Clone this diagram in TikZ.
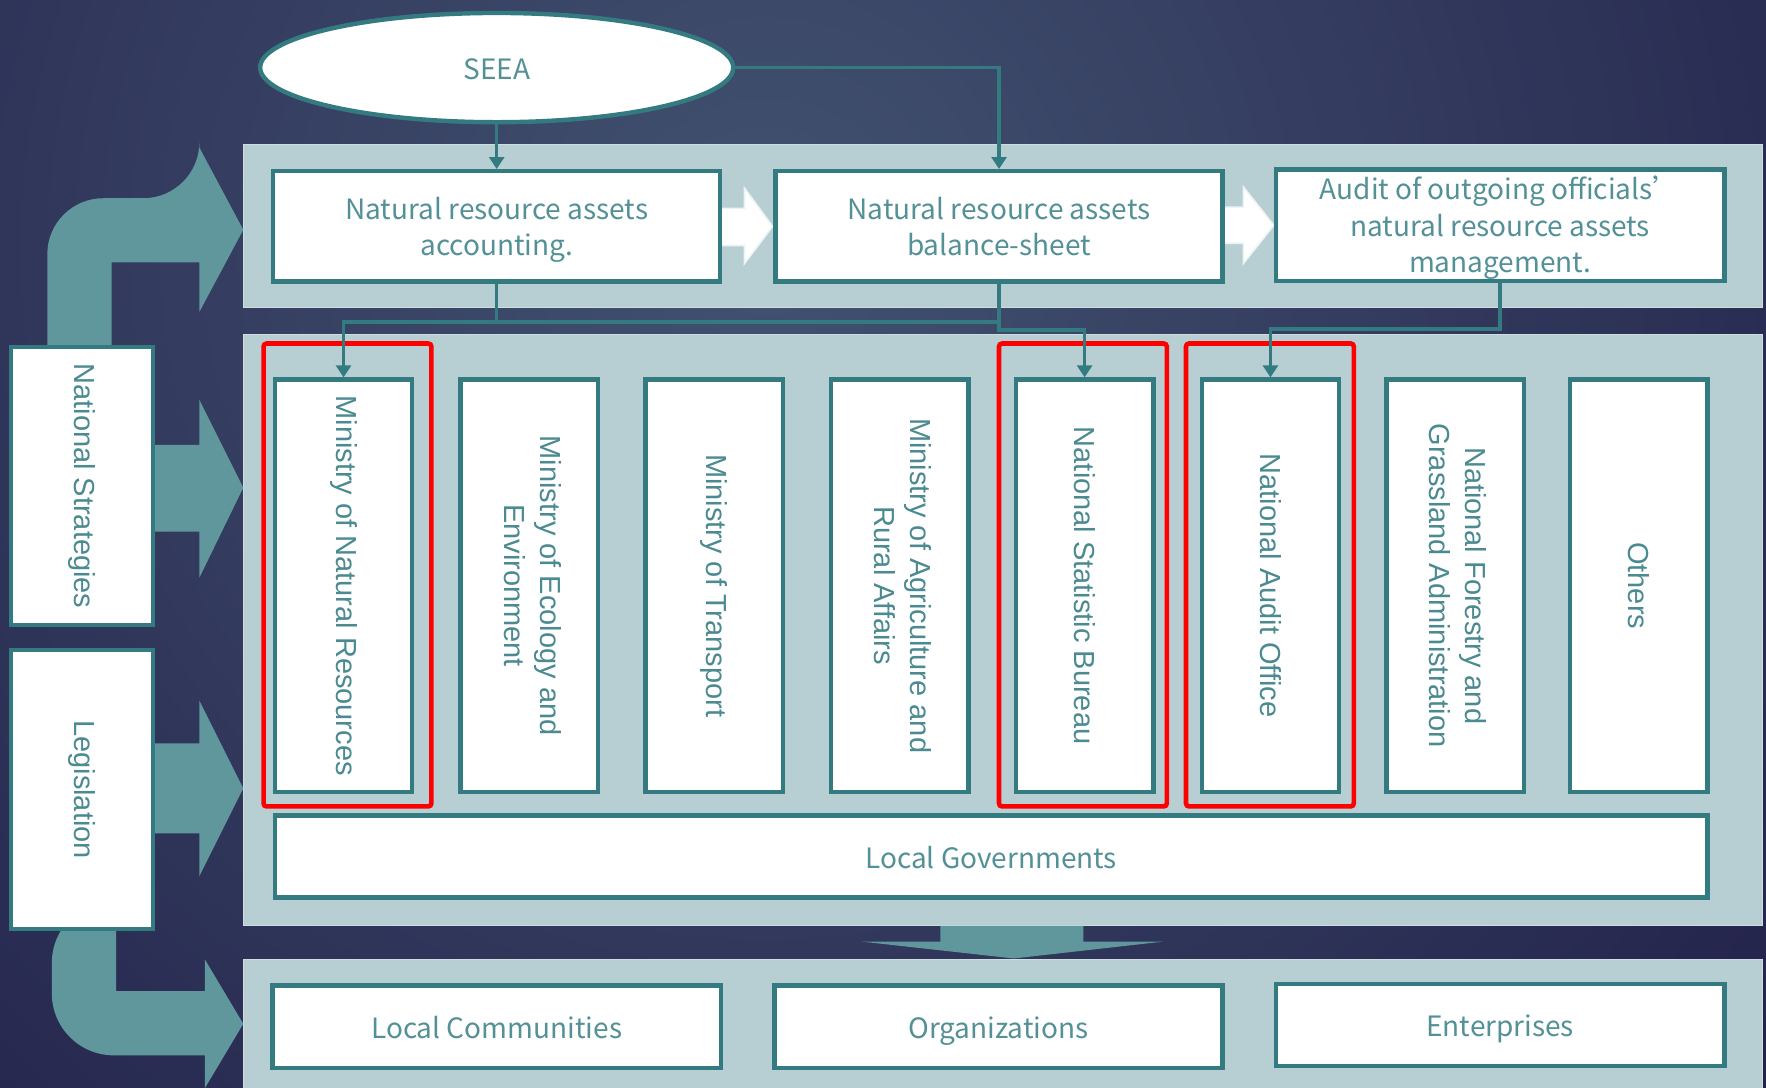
\documentclass[tikz,border=0pt]{standalone}
\usepackage{fontspec}
\usepackage{graphicx}
\setmainfont{Liberation Sans}
\newfontfamily\yh{Noto Sans CJK SC}
\usetikzlibrary{arrows.meta,shapes.geometric}
\definecolor{bgdark}{RGB}{31,28,70}
\definecolor{bglight}{RGB}{66,82,112}
\definecolor{panel}{RGB}{183,207,211}
\definecolor{tealb}{RGB}{52,123,129}
\definecolor{tealf}{RGB}{95,151,157}
\definecolor{txt}{RGB}{75,138,144}
\definecolor{txth}{RGB}{84,145,151}
\newcommand{\uu}{0.5633pt}
\newcommand{\hlines}[1]{\raisebox{-1.8pt}[\height][\depth]{\begin{tabular}{@{}c@{}}#1\end{tabular}}}
\begin{document}
\begin{tikzpicture}[x=0.5633pt,y=-0.5633pt,
  box/.style={draw=tealb, line width=2.2pt, fill=white, inner sep=0pt, text=txt, align=center},
  hbox/.style={box, text=txth, font=\yh\fontsize{14}{18.3}\selectfont},
  oneline/.style={text height=11.6pt, text depth=0pt},
  vbox/.style={box, font=\fontsize{14.5}{18}\selectfont},
  conn/.style={draw=tealb, line width=1.8pt},
  arr/.style={conn, -{Triangle[length=6pt,width=7.5pt]}},
  redbox/.style={draw=red, line width=2.3pt, rounded corners=1.5pt},
  bigarrow/.style={fill=tealf},
  whitearrow/.style={fill=white, draw=white!75!panel, line width=0.8pt},
  panelbg/.style={fill=panel, draw=panel!70!white, line width=0.6pt}
]
\useasboundingbox (0,0) rectangle (1568,966);
\begin{scope}
  \clip (0,0) rectangle (1568,966);
  \shade[inner color=bglight, outer color=bgdark] (680,220) circle (1300);
\end{scope}

% panels
\path[panelbg] (216,128) rectangle (1565,273);
\path[panelbg] (216,297) rectangle (1565,822);
\path[panelbg] (216,852) rectangle (1565,975);

% big teal arrows on the left
\path[bigarrow] (100,395) -- (177,395) -- (177,355) -- (216,433) -- (177,513) -- (177,472) -- (100,472) -- cycle;
\path[bigarrow] (100,660) -- (177,660) -- (177,622) -- (216,700) -- (177,778) -- (177,740) -- (100,740) -- cycle;
\path[bigarrow] (42,320) {[rounded corners=28pt] -- (42,176) -- (177,176)} -- (177,131) -- (216,204) -- (177,277) -- (177,233) -- (99,233) -- (99,320) -- cycle;
\path[bigarrow] (103,800) -- (103,880) -- (182,880) -- (182,852) -- (216,909) -- (182,966) -- (182,937) {[rounded corners=31pt] -- (46,937) -- (46,800)} -- cycle;

% down arrow between panels
\path[bigarrow] (835,822) -- (962,822) -- (962,836) -- (1033,836) -- (900,851) -- (765,836) -- (835,836) -- cycle;

% white arrows between top boxes
\path[whitearrow] (636,185) -- (661,185) -- (661,167) -- (686,201) -- (661,234) -- (661,218) -- (636,218) -- cycle;
\path[whitearrow] (1082,184) -- (1104,184) -- (1104,166) -- (1131,200) -- (1104,234) -- (1104,216) -- (1082,216) -- cycle;

% SEEA
\node[draw=tealb, line width=2.2pt, fill=white, ellipse, inner sep=0pt,
      minimum width=420*\uu, minimum height=97*\uu, text=txth, oneline,
      font=\yh\fontsize{14}{18.3}\selectfont] (seea) at (441,60) {SEEA};

% top boxes
\node[hbox, minimum width=397*\uu, minimum height=98*\uu] (b1) at (441,201) {\hlines{Natural resource assets\\accounting.}};
\node[hbox, minimum width=397*\uu, minimum height=98*\uu] (b2) at (887,201) {\hlines{Natural resource assets\\balance-sheet}};
\node[hbox, minimum width=398*\uu, minimum height=99*\uu] (b3) at (1332,200) {\hlines{Audit of outgoing officials’\\natural resource assets\\management.}};

% left boxes
\node[vbox, minimum width=126*\uu, minimum height=247*\uu] (ns) at (73,431.5) {\rotatebox{-90}{National Strategies}};
\node[vbox, minimum width=126*\uu, minimum height=248*\uu] (leg) at (73,701) {\rotatebox{-90}{Legislation}};

% ministries
\tikzset{mbox/.style={vbox, minimum width=122*\uu, minimum height=366*\uu}}
\node[mbox] (m1) at (305,520) {\rotatebox{-90}{Ministry of Natural Resources}};
\node[mbox] (m2) at (470,520) {\rotatebox{-90}{\begin{tabular}{@{}c@{}}Ministry of Ecology and\\Environment\end{tabular}}};
\node[mbox] (m3) at (634,520) {\rotatebox{-90}{Ministry of Transport}};
\node[mbox] (m4) at (799,520) {\rotatebox{-90}{\begin{tabular}{@{}c@{}}Ministry of Agriculture and\\Rural Affairs\end{tabular}}};
\node[mbox] (m5) at (963,520) {\rotatebox{-90}{National Statistic Bureau}};
\node[mbox] (m6) at (1128,520) {\rotatebox{-90}{National Audit Office}};
\node[mbox] (m7) at (1292,520) {\rotatebox{-90}{\begin{tabular}{@{}c@{}}National Forestry and\\Grassland Administration\end{tabular}}};
\node[mbox] (m8) at (1455,520) {\rotatebox{-90}{Others}};

% red frames
\draw[redbox] (234,305) rectangle (383,716);
\draw[redbox] (887,305) rectangle (1036,716);
\draw[redbox] (1053,305) rectangle (1202,716);

% local governments
\node[hbox, oneline, minimum width=1272*\uu, minimum height=73*\uu] (lg) at (880,760.5) {Local Governments};

% bottom boxes
\node[hbox, oneline, minimum width=398*\uu, minimum height=73*\uu] (lc) at (441,911.5) {Local Communities};
\node[hbox, oneline, minimum width=398*\uu, minimum height=73*\uu] (org) at (886.5,911.5) {Organizations};
\node[hbox, oneline, minimum width=398*\uu, minimum height=73*\uu] (ent) at (1332,910) {Enterprises};

% connectors
\coordinate (j1) at (441,286);
\coordinate (j1e) at (887,286);
\coordinate (j2) at (887,293);
\coordinate (j3) at (1332,292);
\draw[arr] (seea.south) -- (b1.north);
\draw[arr] (seea.east) -| (b2.north);
\draw[arr] (b1.south) -- (j1) -| (m1.north);
\draw[conn] (j1) -- (j1e);
\draw[arr] (b2.south) -- (j2) -| (m5.north);
\draw[arr] (b3.south) -- (j3) -| (m6.north);
\end{tikzpicture}
\end{document}
